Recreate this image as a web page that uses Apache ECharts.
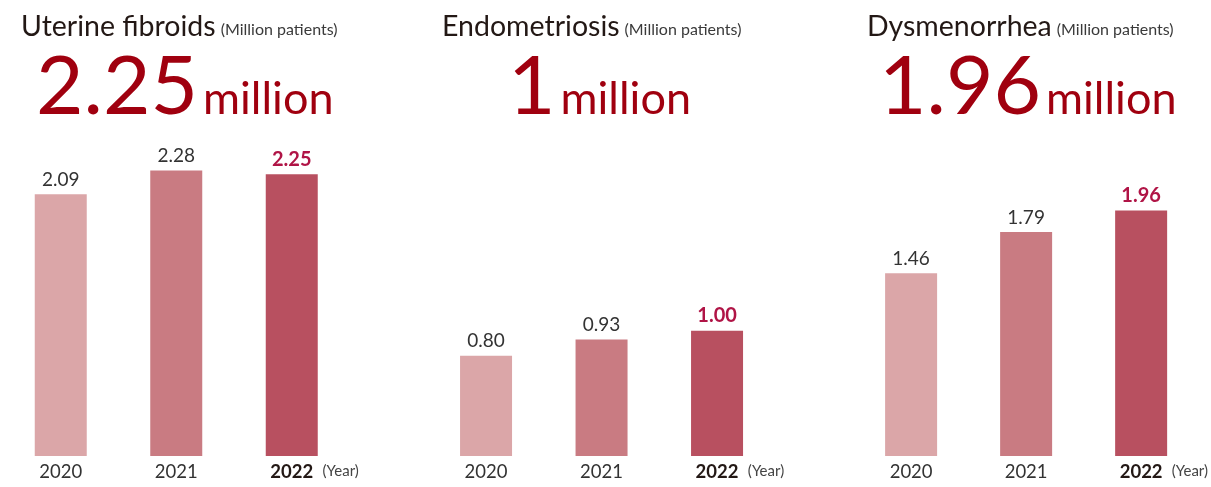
<!DOCTYPE html>
<html>
<head>
<meta charset="utf-8">
<script src="https://cdn.jsdelivr.net/npm/echarts@6/dist/echarts.min.js"></script>
<style>
  html, body { margin: 0; padding: 0; background: #fff; }
  #chart { width: 1211px; height: 487px; }
</style>
</head>
<body>
<div id="chart"></div>
<script>
// data
const years = ['2020', '2021', '2022']
const diseases = ['Uterine fibroids', 'Endometriosis', 'Dysmenorrhea']
const headlines = ['2.25', '1', '1.96']
const fibroids = [2.09, 2.28, 2.25]
const endometriosis = [0.80, 0.93, 1.00]
const dysmenorrhea = [1.46, 1.79, 1.96]
const allSeries = [fibroids, endometriosis, dysmenorrhea]

const barColors = ['#dba6a8', '#c97b82', '#b85060']
const panelStep = 425.3
const titleLeft = [21, 442, 867]
const headLeft = [36, 508, 879]

const myChart = echarts.init(document.getElementById('chart'))

const titles = []
const grids = []
const xAxes = []
const yAxes = []
const series = []

diseases.forEach((name, i) => {
  // 病名 + 单位
  titles.push({
    left: titleLeft[i],
    top: 7,
    padding: 0,
    text: '{a|' + name + '} {b|(Million patients)}',
    textStyle: {
      fontWeight: 'normal',
      rich: {
        a: { fontFamily: 'Lato', fontSize: 28.5, fontWeight: 'normal', color: '#231815', lineHeight: 34, verticalAlign: 'bottom' },
        b: { fontFamily: 'Lato', fontSize: 16, fontWeight: 'normal', color: '#3a3a3a', lineHeight: 34, verticalAlign: 'bottom', padding: [0, 0, 3, 0] }
      }
    }
  })
  // 大数字
  titles.push({
    left: headLeft[i],
    top: 45,
    padding: 0,
    text: '{n|' + headlines[i] + '} {u|million}',
    textStyle: {
      fontWeight: 'normal',
      rich: {
        n: { fontFamily: 'Lato', fontSize: 82, fontWeight: 'normal', color: '#a0000f', lineHeight: 84, verticalAlign: 'bottom' },
        u: { fontFamily: 'Lato', fontSize: 45, fontWeight: 'normal', color: '#a0000f', lineHeight: 45, verticalAlign: 'bottom', padding: [0, 0, 7, 0] }
      }
    }
  })

  grids.push({
    left: 3 + panelStep * i,
    width: 346.5,
    top: 143,
    height: 315
  })

  xAxes.push({
    type: 'category',
    gridIndex: i,
    data: years.map((y, k) => k === 2 ? { value: y, textStyle: { fontWeight: 'bold', color: '#231815' } } : y),
    axisLine: { show: false },
    axisTick: { show: false },
    axisLabel: { fontFamily: 'Lato', fontSize: 18.5, color: '#333', margin: 7 },
    name: '(Year)',
    nameLocation: 'end',
    nameGap: -27,
    nameTextStyle: { fontFamily: 'Lato', fontSize: 15, color: '#444', verticalAlign: 'top', lineHeight: 31 }
  })

  yAxes.push({
    type: 'value',
    gridIndex: i,
    min: 0,
    max: 2.5,
    show: false
  })

  series.push({
    type: 'bar',
    xAxisIndex: i,
    yAxisIndex: i,
    barWidth: 52,
    label: {
      show: true,
      position: 'top',
      distance: 5,
      fontFamily: 'Lato',
      fontSize: 19,
      color: '#333',
      formatter: p => p.value.toFixed(2)
    },
    data: allSeries[i].map((v, k) => ({
      value: v,
      itemStyle: { color: barColors[k] },
      label: k === 2 ? { color: '#b01446', fontWeight: 'bold', fontSize: 20 } : {}
    }))
  })
})

const option = {
  animation: false,
  title: titles,
  grid: grids,
  xAxis: xAxes,
  yAxis: yAxes,
  series: series
}
myChart.setOption(option)
</script>
</body>
</html>
